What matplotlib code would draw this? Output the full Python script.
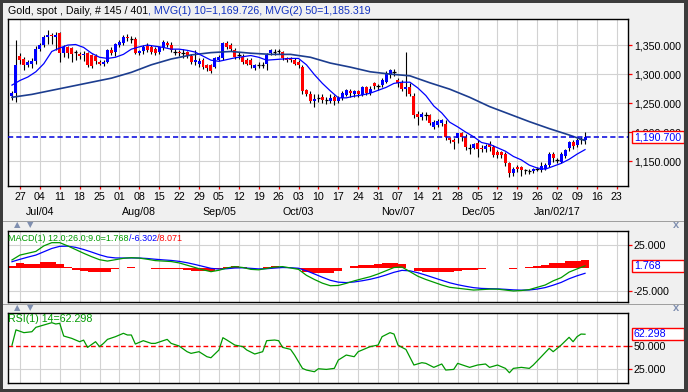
import numpy as np
import pandas as pd
import matplotlib
matplotlib.use('Agg')
import matplotlib.pyplot as plt
from matplotlib.patches import Rectangle
from matplotlib.transforms import blended_transform_factory
from matplotlib.ticker import FuncFormatter

plt.rcParams['font.family'] = ['Liberation Sans', 'DejaVu Sans']

# ---------------- data ----------------
bar_dates = pd.bdate_range('2016-06-23', '2017-01-11')
opens = [1263,1268,1331,1326,1316,1318,1322,1343,1350,1364,1368,1364,1370,1337,1347,1345,1337,1334,1333,1336,
         1333,1331,1321,1318,1321,1341,1338,1350,1354,1364,1362,1361,1337,1340,1349,1347,1344,1338,1346,1354,
         1350,1339,1338,1338,1338,1331,1321,1318,1324,1315,1315,1313,1324,1327,1353,1350,1341,1332,1330,1324,
         1324,1310,1315,1315,1318,1336,1338,1338,1338,1327,1326,1324,1321,1313,1272,1266,1254,1258,1261,1255,
         1254,1261,1254,1258,1264,1271,1265,1270,1264,1277,1267,1284,1278,1281,1287,1298,1304,1290,1284,1274,
         1278,1263,1231,1226,1229,1229,1209,1212,1215,1214,1189,1187,1189,1198,1191,1172,1172,1182,1172,1170,
         1180,1175,1166,1166,1163,1146,1130,1140,1140,1134,1133,1133,1136,1134,1137,1143,1163,1152,1149,1158,
         1172,1183,1178,1187,1186]
highs = [1271,1358,1336,1330,1325,1328,1348,1353,1368,1376,1370,1372,1372,1350,1349,1347,1342,1338,1340,1338,
         1335,1334,1325,1325,1344,1346,1354,1358,1367,1369,1366,1364,1342,1350,1353,1350,1347,1348,1358,1357,
         1356,1344,1342,1343,1340,1334,1342,1327,1327,1318,1318,1330,1333,1355,1357,1353,1345,1338,1334,1328,
         1327,1318,1320,1320,1336,1344,1343,1343,1340,1330,1330,1327,1325,1316,1275,1270,1265,1266,1265,1260,
         1265,1264,1262,1270,1275,1274,1273,1272,1279,1280,1279,1287,1283,1293,1306,1309,1308,1294,1290,1338,
         1285,1268,1236,1235,1235,1232,1220,1222,1223,1220,1192,1190,1199,1200,1196,1179,1182,1187,1178,1180,
         1184,1178,1169,1168,1166,1148,1140,1143,1142,1137,1136,1138,1140,1149,1146,1165,1166,1156,1165,1171,
         1185,1186,1189,1192,1200]
lows = [1255,1252,1318,1307,1312,1310,1318,1339,1346,1352,1352,1342,1320,1330,1327,1321,1325,1326,1322,1312,
        1311,1318,1315,1314,1319,1333,1332,1346,1350,1357,1354,1334,1333,1334,1338,1334,1333,1335,1342,1347,
        1338,1333,1332,1328,1328,1318,1316,1312,1308,1305,1302,1310,1322,1325,1344,1340,1326,1326,1318,1315,
        1310,1307,1310,1311,1307,1333,1333,1334,1324,1320,1320,1315,1311,1266,1262,1251,1243,1252,1250,1249,
        1250,1247,1250,1256,1262,1261,1261,1261,1262,1264,1264,1275,1273,1277,1285,1294,1296,1277,1271,1262,
        1262,1225,1212,1221,1221,1212,1205,1209,1211,1187,1181,1171,1182,1185,1169,1163,1170,1157,1165,1166,
        1168,1157,1155,1156,1142,1123,1125,1131,1125,1128,1128,1130,1133,1132,1134,1140,1149,1147,1146,1155,
        1168,1170,1175,1180,1180]
closes = [1268,1316,1325,1316,1320,1322,1343,1350,1364,1367,1365,1368,1337,1346,1336,1335,1338,1332,1335,1316,
          1314,1322,1318,1321,1341,1337,1352,1356,1364,1362,1361,1337,1340,1346,1341,1338,1336,1346,1355,1350,
          1341,1338,1336,1337,1331,1321,1324,1323,1313,1310,1306,1327,1330,1353,1347,1344,1330,1333,1321,1318,
          1315,1315,1316,1315,1333,1341,1338,1339,1327,1324,1324,1318,1315,1270,1265,1254,1257,1259,1255,1255,
          1258,1254,1258,1267,1272,1267,1271,1265,1277,1267,1275,1279,1279,1290,1301,1307,1304,1284,1275,1277,
          1266,1229,1226,1231,1229,1215,1218,1219,1220,1192,1186,1183,1198,1192,1175,1172,1179,1170,1170,1176,
          1175,1160,1160,1160,1146,1130,1137,1137,1134,1134,1133,1136,1137,1141,1143,1163,1155,1152,1163,1169,
          1183,1176,1187,1188,1190.7]

# indicators read every second bar
ind_bars = list(range(0, 145, 2))
ma10 = [1281,1289,1295,1304,1318,1339,1345,1350,1351,1346,1336,1329,1327,1329,1334,1343,1347,1350,1348,1346,
        1343,1343,1341,1338,1331,1324,1322,1325,1328,1330,1332,1329,1324,1325,1326,1327,1327,1316,1299,1284,
        1271,1259,1259,1262,1264,1267,1272,1277,1284,1286,1286,1276,1263,1245,1233,1217,1209,1200,1192,1182,
        1179,1173,1167,1158,1152,1143,1138,1136,1141,1146,1153,1162,1169.726]
macd = [8.2,13.5,15.5,17.5,23.5,27.0,27.0,23.5,19.5,15.5,11.8,8.5,7.0,8.5,10.0,10.7,10.2,9.0,7.5,7.0,
        6.5,5.0,2.5,0.0,-2.5,-4.5,-3.0,-0.5,1.0,0.0,-2.0,-2.5,-1.0,0.5,1.0,-0.5,-2.0,-8.5,-13.0,-17.0,
        -19.8,-19.5,-17.2,-14.5,-12.2,-10.0,-7.0,-3.5,0.0,0.5,-4.5,-9.5,-13.0,-16.0,-19.0,-21.5,-22.5,-23.5,-24.5,-24.0,
        -23.5,-23.5,-24.5,-25.5,-25.0,-24.0,-21.5,-19.0,-14.5,-11.0,-5.0,-1.5,1.768]
signal = [6.3,8.9,11.3,13.5,17.1,20.7,23.0,23.2,21.9,19.6,16.8,13.8,11.4,10.4,10.3,10.4,10.3,9.8,9.0,8.3,
          7.7,6.7,5.2,3.3,1.2,-0.9,-1.7,-1.3,-0.5,-0.3,-0.9,-1.5,-1.3,-0.6,0.0,-0.2,-0.8,-3.6,-7.0,-10.6,
          -13.9,-15.9,-16.4,-15.7,-14.4,-12.8,-10.7,-8.1,-5.2,-3.1,-3.6,-5.7,-8.3,-11.1,-13.9,-16.6,-18.7,-20.4,-21.9,-22.7,
          -23.0,-23.2,-23.7,-24.3,-24.6,-24.4,-23.4,-21.8,-19.2,-16.2,-12.2,-9.0,-6.302]
hist = [1.9,4.6,4.2,4.0,6.4,6.3,4.0,0.3,-2.4,-4.1,-5.0,-5.3,-4.4,-1.9,-0.3,0.3,-0.1,-0.8,-1.5,-1.3,
        -1.2,-1.7,-2.7,-3.3,-3.7,-3.6,-1.3,0.8,1.5,0.3,-1.1,-1.0,0.3,1.1,1.0,-0.3,-1.2,-4.9,-6.0,-6.4,
        -5.9,-3.6,-0.8,1.2,2.2,2.8,3.7,4.6,5.2,3.6,-0.9,-3.8,-4.7,-4.9,-5.1,-4.9,-3.8,-3.1,-2.6,-1.3,
        -0.5,-0.3,-0.8,-1.2,-0.4,0.4,1.9,2.8,4.7,5.2,7.2,7.5,8.071]

ma50_bars = [0,5,10,15,20,25,30,35,40,45,50,55,60,65,70,75,80,85,90,95,100,105,110,115,120,125,130,135,140,144]
ma50 = [1260,1265,1272,1279,1286,1293,1303,1316,1326,1333,1337,1339,1336,1334,1334,1329,1319,1312,1304,1300,
        1297,1285,1274,1260,1244,1231,1218,1206,1195,1185.319]

rsi_bars = [0,1,3,5,6,8,10,11,12,13,15,16,17,18,19,21,22,23,24,26,28,29,30,31,33,35,36,38,39,40,
            42,44,45,47,49,50,52,53,54,56,58,59,61,63,64,66,67,68,70,71,73,74,76,77,79,81,82,84,86,87,
            88,90,92,93,95,96,97,98,99,101,103,104,106,108,109,111,112,114,115,117,119,120,122,124,125,126,128,130,131,133,
            135,136,138,140,141,142,143,144]
rsi = [50.5,67.0,64.0,65.0,69.7,72.2,74.7,73.3,74.0,60.4,57.9,56.1,54.3,56.0,48.2,54.3,49.0,52.5,56.8,59.7,
       63.3,61.5,61.5,51.8,55.4,52.5,52.5,55.4,56.8,52.5,49.7,43.6,41.8,43.6,38.2,37.1,45.4,58.6,56.1,50.7,
       49.0,45.4,41.1,43.6,55.4,56.1,55.4,48.2,46.1,40.0,25.7,23.9,22.1,25.3,24.6,25.7,34.6,40.0,38.2,43.6,
       45.4,49.0,50.7,59.7,64.0,62.5,50.7,48.2,46.0,29.3,31.8,31.1,26.8,30.4,23.9,24.6,31.1,28.2,26.8,29.3,
       30.4,26.8,29.3,25.7,21.0,25.7,26.8,25.7,29.3,38.2,47.2,43.6,50.7,59.0,54.3,59.7,62.5,62.298]

week_dates = pd.date_range('2016-06-27', '2017-01-23', freq='7D')
week_labels = ['27','04','11','18','25','01','08','15','22','29','05','12','19','26','03','10',
               '17','24','31','07','14','21','28','05','12','19','26','02','09','16','23']
month_dates = ['2016-07-04','2016-08-08','2016-09-05','2016-10-03','2016-11-07','2016-12-05','2017-01-02']
month_labels = ['Jul/04','Aug/08','Sep/05','Oct/03','Nov/07','Dec/05','Jan/02/17']
last_price = 1190.70

title_black = 'Gold, spot , Daily, # 145 / 401'
title_blue = ', MVG(1) 10=1,169.726, MVG(2) 50=1,185.319'

# ---------------- layout helpers ----------------
W, H = 688, 392
def fx(p): return p / W
def fy(p): return 1 - p / H

BG = '#f0f0f0'
GRID = '#d2d2d2'
BLUE = '#0000ff'
RED = '#ff0000'
GREEN = '#009a00'
FS = 7.7

fig = plt.figure(figsize=(6.88, 3.92), dpi=100, facecolor=BG)

# dark window frame
for (x0, y0, w, h) in [(0, 0, 688, 3), (0, 389, 688, 3), (0, 0, 3, 392), (684, 0, 4, 392)]:
    fig.add_artist(Rectangle((fx(x0), fy(y0 + h)), w / W, h / H, transform=fig.transFigure,
                             facecolor='#3c3c3c', edgecolor='none', zorder=10))
# panel separators
for ysep in (221, 304):
    fig.add_artist(Rectangle((fx(3), fy(ysep + 1)), 681 / W, 1 / H, transform=fig.transFigure,
                             facecolor='#a0a0a0', edgecolor='none', zorder=1))
    fig.text(fx(17), fy(ysep + 4), '\u25B2', fontsize=6, color='#7f8fb0', ha='center', va='center',
             family='DejaVu Sans')
    fig.text(fx(30), fy(ysep + 4), '\u25BC', fontsize=6, color='#7f8fb0', ha='center', va='center',
             family='DejaVu Sans')
    fig.text(fx(676), fy(ysep + 4), 'x', fontsize=8, color='#7f8fb0', ha='center', va='center',
             fontweight='bold')

L, R = 8, 628
panels = {
    'main': (19, 186, (1107, 1395)),
    'macd': (230.7, 302.3, (-37.8, 40.0)),
    'rsi': (312.7, 383.3, (9.7, 85.4)),
}
axes = {}
for name, (top, bot, ylim) in panels.items():
    ax = fig.add_axes([fx(L), fy(bot), (R - L) / W, (bot - top) / H])
    ax.set_facecolor('white')
    ax.set_xlim(-1.0, 154.8)
    ax.set_ylim(*ylim)
    for s in ax.spines.values():
        s.set_color('black')
        s.set_linewidth(1.0)
    ax.yaxis.tick_right()
    ax.tick_params(axis='y', direction='out', length=3, width=0.9, color=RED,
                   labelsize=FS, pad=1.2, labelcolor='black')
    ax.yaxis.set_major_formatter(FuncFormatter(lambda v, p: f'{v:,.3f}'))
    axes[name] = ax

base = bar_dates[0]
xb = np.arange(len(bar_dates))
week_x = [np.busday_count(base.date(), d.date()) for d in week_dates]
month_x = [np.busday_count(base.date(), pd.Timestamp(d).date()) for d in month_dates]

for ax in axes.values():
    ax.vlines(week_x, 0, 1, transform=blended_transform_factory(ax.transData, ax.transAxes),
              color=GRID, lw=0.8, zorder=0)

# ---------------- main price panel ----------------
ax1 = axes['main']
yt = [1150, 1200, 1250, 1300, 1350]
ax1.set_yticks(yt)
for v in yt:
    ax1.axhline(v, color=GRID, lw=0.8, zorder=0)
o = np.array(opens, float); c = np.array(closes, float)
h = np.array(highs, float); l = np.array(lows, float)
ax1.vlines(xb, l, h, color='black', lw=0.8, zorder=2)
diff = c - o
up = diff > 1.0
dn = diff < -1.0
dj = ~(up | dn)
ax1.bar(xb[up], diff[up], bottom=o[up], width=0.75, color=BLUE, linewidth=0, zorder=3)
ax1.bar(xb[dn], -diff[dn], bottom=c[dn], width=0.75, color=RED, linewidth=0, zorder=3)
ax1.hlines(c[dj], xb[dj] - 0.45, xb[dj] + 0.45, color='black', lw=0.9, zorder=3)
ax1.plot(ma50_bars, ma50, color='#1c3d8f', lw=1.2, zorder=4)
ax1.plot(ind_bars, ma10, color=BLUE, lw=0.9, zorder=4)
ax1.axhline(last_price, color='#0000dd', lw=1.1, dashes=(3.4, 2.0), zorder=5)

ax1.set_xticks(week_x)
ax1.set_xticklabels([])
ax1.tick_params(axis='x', direction='out', length=2.5, width=0.9, color=RED)
tr = blended_transform_factory(ax1.transData, fig.transFigure)
for x, lab in zip(week_x, week_labels):
    ax1.text(x, fy(197), lab, transform=tr, ha='center', va='center', fontsize=FS, clip_on=False)
for x, lab in zip(month_x, month_labels):
    ax1.text(x, fy(212), lab, transform=tr, ha='center', va='center', fontsize=FS, clip_on=False)

# ---------------- MACD panel ----------------
ax2 = axes['macd']
ax2.set_yticks([-25, 25])
for v in (-25, 25):
    ax2.axhline(v, color=GRID, lw=0.8, zorder=0)
ax2.bar(ind_bars, hist, width=2.0, color=RED, linewidth=0, zorder=2)
ax2.plot(ind_bars, signal, color=BLUE, lw=0.9, zorder=3)
ax2.plot(ind_bars, macd, color=GREEN, lw=0.9, zorder=4)
ax2.tick_params(axis='x', length=0, labelbottom=False)
MFS = 6.5
t = fig.text(fx(8.5), fy(238.5), 'MACD(1) 12.0;26.0;9.0=1.768', color=GREEN, fontsize=MFS,
             ha='left', va='center')
t2 = matplotlib.text.Annotation('/-6.302', xy=(1, 0.5), xycoords=t, ha='left', va='center',
                                color=BLUE, fontsize=MFS)
fig.add_artist(t2)
fig.add_artist(matplotlib.text.Annotation('/8.071', xy=(1, 0.5), xycoords=t2, ha='left', va='center',
                                          color=RED, fontsize=MFS))

# ---------------- RSI panel ----------------
ax3 = axes['rsi']
ax3.set_yticks([25, 50])
ax3.axhline(25, color=GRID, lw=0.8, zorder=0)
ax3.axhline(50, color=RED, lw=1.0, dashes=(3.4, 2.0), zorder=2)
ax3.plot(rsi_bars, rsi, color=GREEN, lw=0.9, zorder=3)
ax3.tick_params(axis='x', length=0, labelbottom=False)
fig.text(fx(8.5), fy(319), 'RSI(1) 14=62.298', color=GREEN, fontsize=FS, ha='left', va='center')

# ---------------- value boxes (drawn over the axis labels, as in the source) ----------------
def value_box(name, v, text, center_text):
    top, bot, (y0, y1) = panels[name]
    yc = top + (y1 - v) / (y1 - y0) * (bot - top)
    fig.add_artist(Rectangle((fx(631.5), fy(yc + 6)), 52.5 / W, 12 / H, transform=fig.transFigure,
                             facecolor='white', edgecolor=RED, lw=1.0, zorder=6))
    if center_text:
        fig.text(fx(657.5), fy(yc), text, color=BLUE, fontsize=FS, ha='center', va='center', zorder=7)
    else:
        fig.text(fx(634), fy(yc), text, color=BLUE, fontsize=FS, ha='left', va='center', zorder=7)

value_box('main', last_price, f'{last_price:,.3f}', True)
value_box('macd', macd[-1], f'{macd[-1]:.3f}', False)
value_box('rsi', rsi[-1], f'{rsi[-1]:.3f}', False)

# ---------------- title ----------------
tt = fig.text(fx(8), fy(10.5), title_black, fontsize=FS, color='black', ha='left', va='center')
fig.add_artist(matplotlib.text.Annotation(title_blue, xy=(1, 0.5), xycoords=tt, ha='left', va='center',
                                          fontsize=FS, color='#1030c0'))

fig.savefig('out.png', dpi=100, facecolor=BG)
